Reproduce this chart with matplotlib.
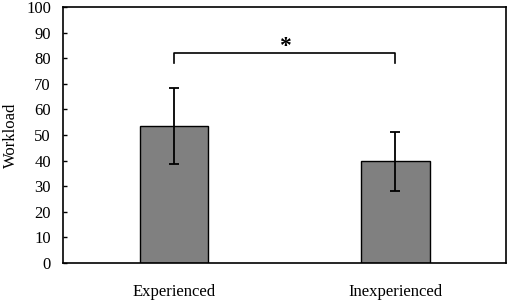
import matplotlib
matplotlib.use("Agg")
import matplotlib.pyplot as plt

categories = ["Experienced", "Inexperienced"]
means = [53.5, 39.8]
errors = [15.0, 11.5]
yticks = [0, 10, 20, 30, 40, 50, 60, 70, 80, 90, 100]
bracket_y = 82
bracket_drop = 4
sig_label = "*"

plt.rcParams['font.family'] = ['Liberation Serif', 'DejaVu Serif']
plt.rcParams['font.size'] = 12

fig = plt.figure(figsize=(5.1, 3.0), dpi=100)
ax = fig.add_axes([63.5/510, 37/300, (506-63.5)/510, (263-7)/300])

x = list(range(len(categories)))
ax.bar(x, means, width=0.31, color='#808080', edgecolor='black', linewidth=1.0,
       yerr=errors, error_kw=dict(ecolor='black', elinewidth=1.3, capsize=3.5, capthick=1.3))

ax.plot([x[0], x[0], x[1], x[1]],
        [bracket_y - bracket_drop, bracket_y, bracket_y, bracket_y - bracket_drop],
        color='black', linewidth=1.2)
ax.text((x[0] + x[1]) / 2, bracket_y - 1.5, sig_label, ha='center', va='bottom',
        fontsize=17, fontweight='bold')

ax.set_xlim(-0.5, 1.5)
ax.set_ylim(0, 100)
ax.set_yticks(yticks)
ax.set_xticks(x)
ax.set_xticklabels(categories)
ax.tick_params(axis='y', direction='in', length=3, width=1, pad=9)
ax.tick_params(axis='x', length=0, pad=15)
for s in ax.spines.values():
    s.set_linewidth(1.2)
ax.set_ylabel("Workload", labelpad=5)

fig.savefig("out.png", dpi=100)
